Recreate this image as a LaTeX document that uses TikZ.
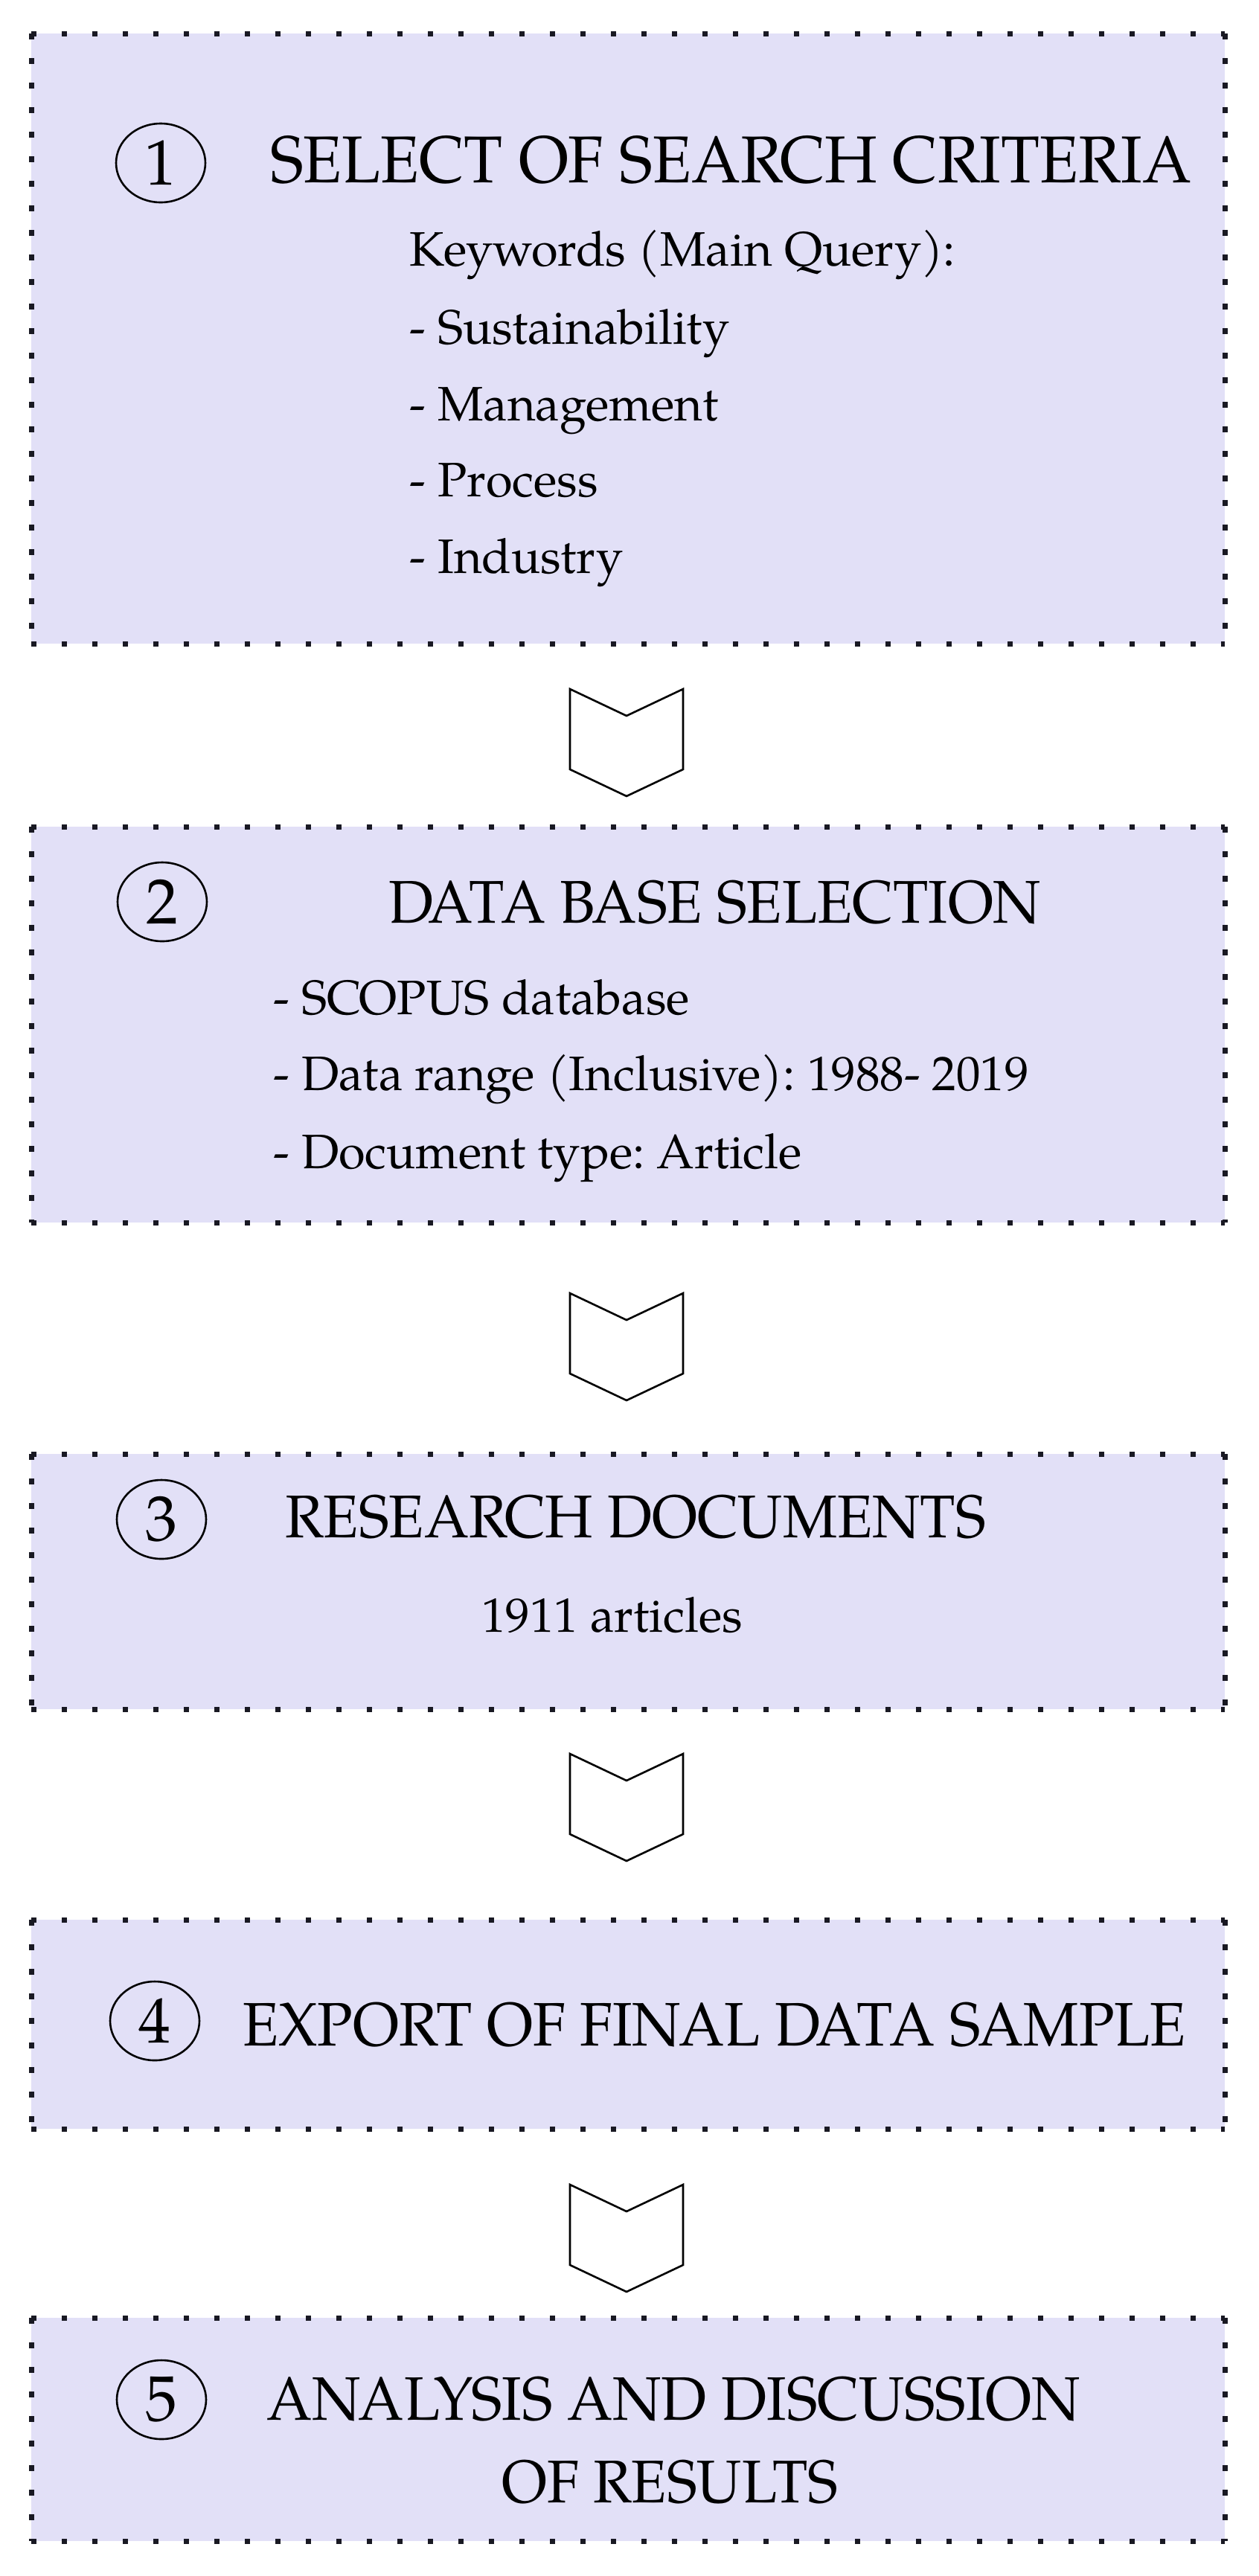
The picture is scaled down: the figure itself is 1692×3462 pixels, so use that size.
\documentclass[tikz,border=0pt]{standalone}
\usepackage{fontspec}
\setmainfont{texgyrepagella-regular.otf}
\newfontfamily\ttlfont{texgyrepagella-regular.otf}[FakeStretch=0.955]
\usetikzlibrary{shapes.geometric}
\definecolor{boxfill}{RGB}{226,224,247}
\definecolor{dotc}{RGB}{25,25,35}
\tikzset{
  boxbg/.style={fill=boxfill, draw=none, inner sep=0pt, anchor=north west, minimum width=1604pt},
  hdots/.style={draw=dotc, line width=7pt, dash pattern=on 7pt off 34pt},
  vdots/.style={draw=dotc, line width=7pt, dash pattern=on 8pt off 25pt},
  num/.style={draw, ellipse, line width=2.6pt, minimum width=120pt, minimum height=106pt, inner sep=0pt, font=\fontsize{86}{86}\selectfont},
  ttl/.style={anchor=base west, inner sep=0pt, font=\ttlfont\fontsize{81}{96}\selectfont},
  bigttl/.style={anchor=base west, inner sep=0pt, font=\ttlfont\fontsize{89}{100}\selectfont},
  midttl/.style={anchor=base west, inner sep=0pt, font=\ttlfont\fontsize{82.5}{96}\selectfont},
  txt/.style={anchor=base west, inner sep=0pt, font=\frenchspacing\fontsize{65}{78}\selectfont},
  chev/.style={draw, line width=2.6pt, fill=white, line join=miter},
  chevron/.pic={\draw[chev] (-76,0) -- (0,36) -- (76,0) -- (76,108) -- (0,144) -- (-76,108) -- cycle;}
}
\begin{document}
\frenchspacing
\begin{tikzpicture}[x=1pt,y=-1pt]
\useasboundingbox (0,0) rectangle (1692,3462);
\fill[white] (0,0) rectangle (1692,3462);
% boxes
\node[boxbg, minimum height=820pt] (b1) at (42,45) {};
\node[boxbg, minimum height=532pt] (b2) at (42,1111) {};
\node[boxbg, minimum height=343pt] (b3) at (42,1954) {};
\node[boxbg, minimum height=281pt] (b4) at (42,2580) {};
\node[boxbg, minimum height=300pt] (b5) at (42,3115) {};
\foreach \b in {b1,b2,b3,b4,b5}{
  \draw[hdots] (\b.north west) -- (\b.north east);
  \draw[hdots] (\b.south west) -- (\b.south east);
  \draw[vdots] (\b.north west) -- (\b.south west);
  \draw[vdots] (\b.north east) -- (\b.south east);
}
% chevrons
\coordinate (a1) at (842,926);
\coordinate (a2) at (842,1738);
\coordinate (a3) at (842,2357);
\coordinate (a4) at (842,2936);
\foreach \a in {a1,a2,a3,a4}{ \pic at (\a) {chevron}; }
% box 1
\node[num] (n1) at (216,219) {1};
\node[bigttl] (t1) at (363,245) {SELECT OF SEARCH CRITERIA};
\node[txt] (k1) at (550,357) {Keywords (Main Query):};
\node[txt] (k2) at (550,462) {- Sustainability};
\node[txt] (k3) at (550,565) {- Management};
\node[txt] (k4) at (550,667) {- Process};
\node[txt] (k5) at (550,770) {- Industry};
% box 2
\node[num] (n2) at (218,1212) {2};
\node[ttl] (t2) at (522,1240) {DATA BASE SELECTION};
\node[txt] (d1) at (367,1363) {- SCOPUS database};
\node[txt] (d2) at (367,1465) {- Data range (Inclusive): 1988- 2019};
\node[txt] (d3) at (367,1570) {- Document type: Article};
% box 3
\node[num] (n3) at (217,2042) {3};
\node[ttl] (t3) at (383,2066) {RESEARCH DOCUMENTS};
\node[txt] (r1) at (647,2193) {1911 articles};
% box 4
\node[num] (n4) at (208,2716) {4};
\node[midttl] (t4) at (326,2749) {EXPORT OF FINAL DATA SAMPLE};
% box 5
\node[num] (n5) at (217,3225) {5};
\node[midttl] (t5) at (358,3252) {ANALYSIS AND DISCUSSION};
\node[ttl] (t6) at (674,3363) {OF RESULTS};
\end{tikzpicture}
\end{document}
